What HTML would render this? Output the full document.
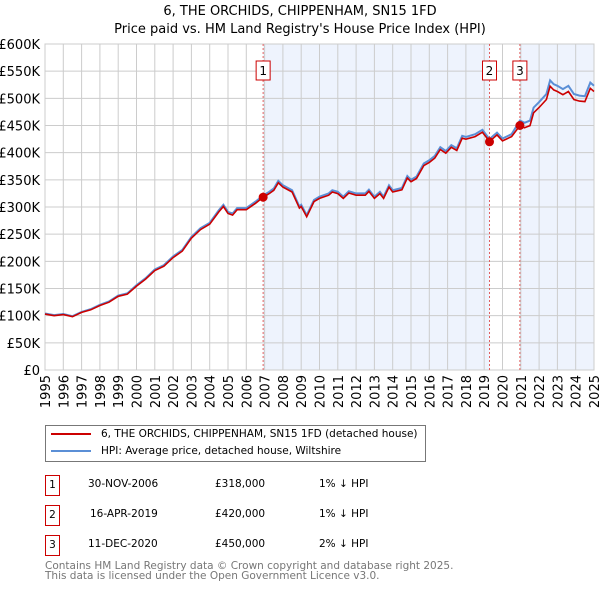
<!DOCTYPE html>
<html><head><meta charset="utf-8"><style>
body{margin:0;background:#fff;font-family:"Liberation Sans","DejaVu Sans",sans-serif;}
svg text{font-family:"DejaVu Sans","Liberation Sans",sans-serif;}
.t div{white-space:nowrap}
</style></head><body>
<svg id="c" width="600" height="590" xmlns="http://www.w3.org/2000/svg"></svg>
<script>
const hpiYears=[1995,1995.5,1996,1996.5,1997,1997.5,1998,1998.5,1999,1999.5,2000,2000.5,2001,2001.5,2002,2002.5,2003,2003.5,2004,2004.5,2004.75,2005,2005.25,2005.5,2006,2006.5,2006.92,2007.25,2007.5,2007.75,2008,2008.5,2008.9,2009,2009.3,2009.7,2010,2010.5,2010.7,2011,2011.3,2011.6,2012,2012.5,2012.7,2013,2013.3,2013.5,2013.8,2014,2014.5,2014.8,2015,2015.3,2015.7,2016,2016.3,2016.6,2016.9,2017.2,2017.5,2017.8,2018,2018.5,2018.9,2019.29,2019.5,2019.7,2020,2020.5,2020.95,2021.2,2021.5,2021.7,2022,2022.4,2022.6,2022.8,2023,2023.3,2023.6,2023.9,2024.2,2024.5,2024.8,2025];
const hpiValues=[104,101,103,99,107,112,120,126,137,141,156,169,185,193,209,221,245,261,271,294,304,291,288,298,298,310,321,328,334,348,340,331,301,304,285,313,319,325,331,328,319,329,325,325,332,319,328,319,340,331,335,357,350,356,380,386,394,410,403,414,408,431,429,434,442,425,431,437,426,434,459,455,459,483,493,508,533,526,523,517,523,508,505,504,529,523];
const sales=[{t:2006.92,v:318,label:"1"},{t:2019.29,v:420,label:"2"},{t:2020.95,v:450,label:"3"}];
const yTicks=[0,50,100,150,200,250,300,350,400,450,500,550,600];
const xTicks=[1995,1996,1997,1998,1999,2000,2001,2002,2003,2004,2005,2006,2007,2008,2009,2010,2011,2012,2013,2014,2015,2016,2017,2018,2019,2020,2021,2022,2023,2024,2025];
const X0=45,X1=594,Y0=370,Y1=44;
const xs=t=>X0+(t-1995)/30*(X1-X0);
const ys=v=>Y0-v/600*(Y0-Y1);
const NS="http://www.w3.org/2000/svg",svg=document.getElementById('c');
function mk(tag,at,parent){const e=document.createElementNS(NS,tag);for(const k in at)e.setAttribute(k,at[k]);(parent||svg).appendChild(e);return e;}
let e;
e=mk('text',{x:300,y:15,'text-anchor':'middle','font-size':13});e.textContent="6, THE ORCHIDS, CHIPPENHAM, SN15 1FD";


e=mk('text',{x:300,y:33,'text-anchor':'middle','font-size':13});e.textContent="Price paid vs. HM Land Registry's House Price Index (HPI)";


e=mk('rect',{x:xs(sales[0].t),y:Y1,width:xs(sales[1].t)-xs(sales[0].t),height:Y0-Y1,fill:'#eef3fd'});


e=mk('rect',{x:xs(sales[2].t),y:Y1,width:X1-xs(sales[2].t),height:Y0-Y1,fill:'#eef3fd'});


yTicks.forEach(v=>{
 e=mk('line',{x1:X0,x2:X1,y1:ys(v),y2:ys(v),stroke:'#cccccc','stroke-width':1});
 
 
 e=mk('text',{x:40,y:ys(v)+5,'text-anchor':'end','font-size':13});e.textContent=v===0?'£0':'£'+v+'K';
 
 
});
xTicks.forEach(t=>{
 e=mk('line',{x1:xs(t),x2:xs(t),y1:Y1,y2:Y0,stroke:'#cccccc','stroke-width':1});
 
 
 e=mk('text',{x:0,y:0,'text-anchor':'end','font-size':13,transform:`translate(${xs(t)+5},375) rotate(-90)`});e.textContent=t;
 
 
});
e=mk('rect',{x:X0,y:Y1,width:X1-X0,height:Y0-Y1,fill:'none',stroke:'#cccccc'});


sales.forEach(s=>{
 e=mk('line',{x1:xs(s.t),x2:xs(s.t),y1:Y1,y2:Y0,stroke:'#e06060','stroke-width':1,'stroke-dasharray':'2,2'});
 
 
});
let pb='',pr='';
hpiYears.forEach((t,i)=>{
 pb+=(i?'L':'M')+xs(t).toFixed(1)+','+ys(hpiValues[i]).toFixed(1);
 const f=t<2020.9?0.99:0.98;
 pr+=(i?'L':'M')+xs(t).toFixed(1)+','+ys(hpiValues[i]*f).toFixed(1);
});
e=mk('path',{d:pb,fill:'none',stroke:'#5b8fd6','stroke-width':2});


e=mk('path',{d:pr,fill:'none',stroke:'#cc0000','stroke-width':1.6});


sales.forEach(s=>{
 e=mk('circle',{cx:xs(s.t),cy:ys(s.v),r:4.5,fill:'#cc0000'});
 
 
 e=mk('rect',{x:xs(s.t)-7,y:61,width:14,height:19,fill:'#fff',stroke:'#cc0000'});
 
 
 e=mk('text',{x:xs(s.t),y:75,'text-anchor':'middle','font-size':12});e.textContent=s.label;
 
 
});
</script>
<div style="position:absolute;left:45px;top:425px;width:381px;height:37px;border:1px solid #777;box-sizing:border-box;font-family:'DejaVu Sans','Liberation Sans',sans-serif;font-size:10.5px;">
 <div style="position:absolute;left:5px;top:2px;white-space:nowrap"><span style="display:inline-block;width:40px;height:2px;background:#cc0000;vertical-align:middle;margin-right:10px"></span>6, THE ORCHIDS, CHIPPENHAM, SN15 1FD (detached house)</div>
 <div style="position:absolute;left:5px;top:19px;white-space:nowrap"><span style="display:inline-block;width:40px;height:2px;background:#5b8fd6;vertical-align:middle;margin-right:10px"></span>HPI: Average price, detached house, Wiltshire</div>
</div>
<div class="t" style="position:absolute;left:0;top:0;font-family:'DejaVu Sans','Liberation Sans',sans-serif;font-size:10.5px;">
 <div>
  <div style="position:absolute;left:45px;top:475px;width:13px;height:19px;border:1px solid #cc0000;text-align:center;line-height:19px">1</div>
  <div style="position:absolute;left:88px;top:478px">30-NOV-2006</div>
  <div style="position:absolute;left:215px;top:478px">£318,000</div>
  <div style="position:absolute;left:319px;top:478px">1% ↓ HPI</div>
 </div>
 <div>
  <div style="position:absolute;left:45px;top:505px;width:13px;height:19px;border:1px solid #cc0000;text-align:center;line-height:19px">2</div>
  <div style="position:absolute;left:90px;top:508px">16-APR-2019</div>
  <div style="position:absolute;left:215px;top:508px">£420,000</div>
  <div style="position:absolute;left:319px;top:508px">1% ↓ HPI</div>
 </div>
 <div>
  <div style="position:absolute;left:45px;top:535px;width:13px;height:19px;border:1px solid #cc0000;text-align:center;line-height:19px">3</div>
  <div style="position:absolute;left:88px;top:538px">11-DEC-2020</div>
  <div style="position:absolute;left:215px;top:538px">£450,000</div>
  <div style="position:absolute;left:319px;top:538px">2% ↓ HPI</div>
 </div>
</div>
<div style="position:absolute;left:45px;top:561px;font-family:'DejaVu Sans','Liberation Sans',sans-serif;font-size:10.5px;color:#777;line-height:10px;white-space:nowrap">Contains HM Land Registry data © Crown copyright and database right 2025.<br>This data is licensed under the Open Government Licence v3.0.</div>
</body></html>
